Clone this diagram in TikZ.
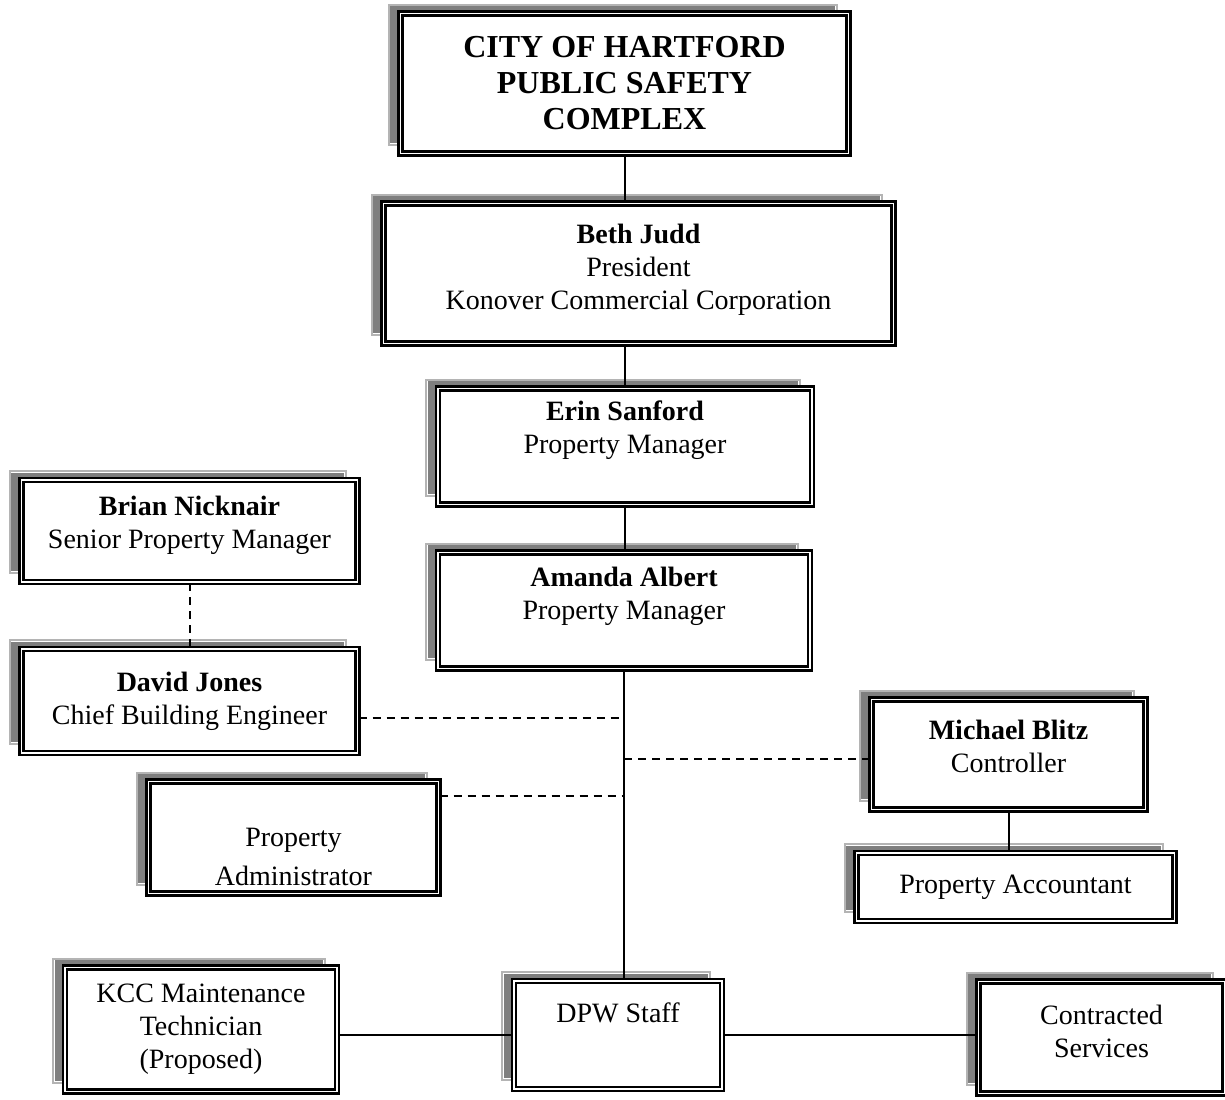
\documentclass[tikz,border=0pt]{standalone}
\usepackage{fontspec}
\setmainfont{Liberation Serif}
\usetikzlibrary{positioning,calc}
\definecolor{shadowdark}{HTML}{7F7F7F}
\definecolor{shadowlight}{HTML}{B4B4B4}

\begin{document}
\begin{tikzpicture}[
  x=0.5pt, y=-0.5pt,
  font=\fontsize{14}{16.5}\selectfont,
  backdrop/.style={
    preaction={fill=shadowdark, draw=white, line width=1.8pt,
               transform canvas={shift={(-6pt,4.5pt)}}},
    preaction={draw=shadowlight, line width=1pt,
               transform canvas={shift={(-6pt,4.5pt)}}}},
  box/.style={backdrop, draw=black, fill=white, line width=1.2pt,
              double=white, double distance=0.9pt, align=center, inner sep=2pt},
  head/.style={box, font=\fontsize{16}{18}\selectfont\bfseries},
  lift/.style={text depth=#1},
  sink/.style={text height=#1},
  link/.style={line width=1pt, black},
  dlink/.style={link, dash pattern=on 4pt off 3pt},
]
\useasboundingbox (0,0) rectangle (1225,1099);

%% ---------- main column ----------
\node[head, minimum width=224pt, minimum height=70pt] (city) at (624.5,83.5)
  {CITY OF HARTFORD\\ PUBLIC SAFETY\\ COMPLEX};
\node[box, lift=7pt, minimum width=255pt, minimum height=70pt] (judd) at (638.5,273.5)
  {\textbf{Beth Judd}\\ President\\ Konover Commercial Corporation};
\node[box, lift=19pt, minimum width=187pt, minimum height=58pt] (sanford) at (625,446.5)
  {\textbf{Erin Sanford}\\ Property Manager};
\node[box, lift=17pt, minimum width=186pt, minimum height=58pt] (albert) at (624,610.5)
  {\textbf{Amanda Albert}\\ Property Manager};

\draw[link] (city.south) -- (city.south |- judd.north);
\draw[link] (sanford.north |- judd.south) -- (sanford.north);
\draw[link] (sanford.south) -- (sanford.south |- albert.north);

%% ---------- left column ----------
\node[box, lift=9pt, minimum width=168pt, minimum height=51pt] (nicknair) at (189.5,531)
  {\textbf{Brian Nicknair}\\ Senior Property Manager};
\node[box, minimum width=168pt, minimum height=52pt] (jones) at (189.5,701)
  {\textbf{David Jones}\\ Chief Building Engineer};
\node[box, sink=48pt, minimum width=145pt, minimum height=56pt] (admin) at (293.5,837.5)
  {Property\\[3pt] Administrator};

\draw[dlink] (nicknair.south) -- (nicknair.south |- jones.north);

%% ---------- right column ----------
\node[box, lift=8pt, minimum width=137pt, minimum height=55pt] (blitz) at (1008.5,754.5)
  {\textbf{Michael Blitz}\\ Controller};
\node[box, minimum width=159pt, minimum height=34pt] (accountant) at (1015.5,887)
  {Property Accountant};

\draw[link] (blitz.south) -- (blitz.south |- accountant.north);

%% ---------- bottom row ----------
\node[box, minimum width=136pt, minimum height=62pt] (kcc) at (201,1029.5)
  {KCC Maintenance\\ Technician\\ (Proposed)};
\node[box, lift=22pt, minimum width=104pt, minimum height=54pt] (dpw) at (618,1035)
  {DPW Staff};
\node[box, lift=6pt, minimum width=123pt, minimum height=56pt] (contracted) at (1101.5,1037.5)
  {Contracted\\ Services};

\draw[link] (kcc.east |- dpw.west) -- (dpw.west);
\draw[link] (dpw.east) -- (dpw.east -| contracted.west);

%% ---------- trunk with dashed branches ----------
\coordinate (jd) at (624,718);
\coordinate (jm) at (624,759);
\coordinate (ja) at (624,796);
\draw[link] (albert.south) -- (albert.south |- dpw.north);
\draw[dlink] (jones.east |- jd) -- (jd);
\draw[dlink] (jm) -- (blitz.west |- jm);
\draw[dlink] (admin.east |- ja) -- (ja);

\end{tikzpicture}
\end{document}
